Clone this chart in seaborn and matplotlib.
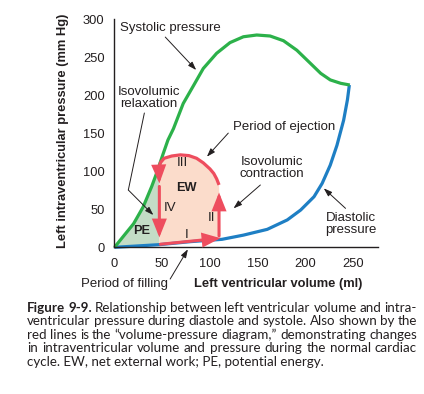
import matplotlib
matplotlib.use("Agg")
import numpy as np
import pandas as pd
import seaborn as sns
import matplotlib.pyplot as plt

# ---------------- data ----------------
systolic_volume = [0, 9, 20, 30, 39, 44, 51, 56, 61.8, 72, 83, 93, 107, 121, 135, 149,
                   163, 177, 191, 205, 216, 226, 237, 246.5]
systolic_pressure = [0, 14, 31, 53, 80, 97, 123, 141, 156, 189, 213, 235, 255, 269, 276.7, 279,
                     277.7, 271.5, 259, 242, 228.6, 220, 215.5, 213.3]

diastolic_volume = [0, 47, 80, 112.6, 135, 160, 181, 195, 209, 217.5, 226, 233, 240, 244, 246]
diastolic_pressure = [0, 3.5, 7.5, 10.5, 16, 23.6, 36, 49, 66.5, 84, 108, 134, 167, 194, 213.3]

# volume-pressure loop (phases I-IV)
phase_I_volume = [48, 111]
phase_I_pressure = [4, 12]
phase_II_volume = [109.5, 109.5]
phase_II_pressure = [15, 72]
phase_III_volume = [109.5, 107, 104, 100, 93, 86, 78, 69, 60, 52, 48, 46.5, 46.8, 47]
phase_III_pressure = [82, 90, 97, 103, 111, 117, 120.5, 121.5, 120, 117, 111, 102, 95, 84]
phase_IV_volume = [47, 47]
phase_IV_pressure = [80, 13]

x_ticks = [0, 50, 100, 150, 200, 250]
y_ticks = [0, 50, 100, 150, 200, 250, 300]

x_label = "Left ventricular volume (ml)"
y_label = "Left intraventricular pressure (mm Hg)"

caption_bold = "Figure 9-9."
caption_lines = [
    "Figure 9-9. Relationship between left ventricular volume and intra-",
    "ventricular pressure during diastole and systole. Also shown by the",
    "red lines is the \u201cvolume-pressure diagram,\u201d demonstrating changes",
    "in intraventricular volume and pressure during the normal cardiac",
    "cycle. EW, net external work; PE, potential energy.",
]

# ---------------- style ----------------
sns.set_style("white")
plt.rcParams["font.family"] = ["Liberation Sans", "DejaVu Sans"]
CAP_FONT = ["Lato", "Liberation Sans", "DejaVu Sans"]
INK = "#231f20"
GREEN = "#2cb14a"
BLUE = "#1e7fc4"
RED = "#ee4d5e"
PEACH = "#fbdccb"
PEGREEN = "#c4dcc6"

fig = plt.figure(figsize=(4.24, 3.94), dpi=100)
ax = fig.add_axes([0.2700, 0.3723, 0.6215, 0.5794])

# fills
sys_v = np.array(systolic_volume, float)
sys_p = np.array(systolic_pressure, float)
dia_v = np.array(diastolic_volume, float)
dia_p = np.array(diastolic_pressure, float)
x_edge = phase_IV_volume[0]
mask = sys_v < x_edge
pe_v = list(sys_v[mask]) + [x_edge, x_edge] + [0]
pe_p = list(sys_p[mask]) + [np.interp(x_edge, sys_v, sys_p), np.interp(x_edge, dia_v, dia_p), 0]
ax.fill(pe_v, pe_p, color=PEGREEN, lw=0, zorder=1)

ew_v = [phase_IV_volume[0]] + phase_I_volume + phase_III_volume
ew_p = [phase_I_pressure[0]] + phase_I_pressure + phase_III_pressure
ax.fill(ew_v, ew_p, color=PEACH, lw=0, zorder=1)

# pressure curves
sns.lineplot(x=diastolic_volume, y=diastolic_pressure, sort=False, estimator=None,
             color=BLUE, lw=2.3, ax=ax, zorder=2)
sns.lineplot(x=systolic_volume, y=systolic_pressure, sort=False, estimator=None,
             color=GREEN, lw=2.3, ax=ax, zorder=2)
for ln in ax.lines:
    ln.set_clip_on(False)
    ln.set_solid_capstyle("butt")
    ln.set_solid_joinstyle("round")

# loop
red_arrow = dict(arrowstyle="-|>,head_length=0.95,head_width=0.38", color=RED, lw=2.2,
                 shrinkA=0, shrinkB=0, joinstyle="miter")
ax.annotate("", xy=(phase_I_volume[1], phase_I_pressure[1]),
            xytext=(phase_I_volume[0], phase_I_pressure[0]), arrowprops=red_arrow, zorder=4)
ax.annotate("", xy=(phase_II_volume[1], phase_II_pressure[1]),
            xytext=(phase_II_volume[0], phase_II_pressure[0]), arrowprops=red_arrow, zorder=4)
sns.lineplot(x=phase_III_volume[:-2], y=phase_III_pressure[:-2], sort=False, estimator=None,
             color=RED, lw=2.3, ax=ax, zorder=4)
ax.lines[-1].set_solid_capstyle("butt")
ax.lines[-1].set_solid_joinstyle("round")
ax.annotate("", xy=(phase_III_volume[-1], phase_III_pressure[-1]),
            xytext=(phase_III_volume[-3], phase_III_pressure[-3]), arrowprops=red_arrow, zorder=4)
ax.annotate("", xy=(phase_IV_volume[1], phase_IV_pressure[1]),
            xytext=(phase_IV_volume[0], phase_IV_pressure[0]), arrowprops=red_arrow, zorder=4)

# axes
ax.set_xlim(0, 276)
ax.set_ylim(0, 300)
ax.set_xticks(x_ticks)
ax.set_yticks(y_ticks)
sns.despine(ax=ax)
for s in ("left", "bottom"):
    ax.spines[s].set_color(INK)
    ax.spines[s].set_linewidth(1.0)
ax.tick_params(axis="both", direction="out", length=4.3, width=1.0, color=INK,
               labelsize=9.3, labelcolor=INK)
ax.tick_params(axis="y", pad=2.8)
ax.tick_params(axis="x", pad=3.6)
ax.set_xlabel(x_label, fontsize=9.3, fontweight="bold", color=INK)
ax.set_ylabel(y_label, fontsize=9.3, fontweight="bold", color=INK)
ax.xaxis.set_label_coords(0.6205, -0.1607)
ax.xaxis.label.set_va("center")
ax.yaxis.set_label_coords(-0.1954, 0.509)
ax.yaxis.label.set_va("center")

# annotations
fs_ann = 9.5
thin = dict(arrowstyle="-|>,head_length=0.5,head_width=0.17", color=INK, lw=0.7,
            shrinkA=0, shrinkB=0)
ax.text(5.8, 288.2, "Systolic pressure", fontsize=fs_ann, color=INK, ha="left", va="center")
ax.annotate("", xy=(85.6, 233.0), xytext=(53.2, 276.3), arrowprops=thin)

ax.text(36.2, 196.8, "Isovolumic\nrelaxation", fontsize=fs_ann, color=INK, ha="center",
        va="center", linespacing=1.0)
ax.plot([31.3, 14.5], [176.5, 75.3], color=INK, lw=0.7, zorder=5)
ax.annotate("", xy=(40.7, 42.4), xytext=(14.5, 75.3), arrowprops=thin)

ax.text(124.4, 158.5, "Period of ejection", fontsize=fs_ann, color=INK, ha="left", va="center")
ax.annotate("", xy=(96.8, 119.1), xytext=(119.2, 150.1), arrowprops=thin)

ax.text(164.9, 104.6, "Isovolumic\ncontraction", fontsize=fs_ann, color=INK, ha="center",
        va="center", linespacing=1.0)
ax.annotate("", xy=(124.7, 51.2), xytext=(152.8, 81.9), arrowprops=thin)

ax.text(247.8, 30.6, "Diastolic\npressure", fontsize=fs_ann, color=INK, ha="center",
        va="center", linespacing=1.0)
ax.annotate("", xy=(219.2, 77.5), xytext=(242.0, 51.2), arrowprops=thin)

ax.text(10.2, -48.2, "Period of filling", fontsize=fs_ann, color=INK, ha="center",
        va="center", clip_on=False)
ax.annotate("", xy=(76.9, -2.6), xytext=(58.3, -41.7), arrowprops=thin, annotation_clip=False)

ax.text(71.6, 110.4, "III", fontsize=fs_ann, color=INK, ha="center", va="center", zorder=6)
ax.text(75.1, 77.5, "EW", fontsize=9.2, fontweight="bold", color=INK, ha="center", va="center", zorder=6)
ax.text(58.3, 51.2, "IV", fontsize=fs_ann, color=INK, ha="center", va="center", zorder=6)
ax.text(102.0, 38.1, "II", fontsize=fs_ann, color=INK, ha="center", va="center", zorder=6)
ax.text(75.8, 16.2, "I", fontsize=fs_ann, color=INK, ha="center", va="center", zorder=6)
ax.text(28.6, 21.8, "PE", fontsize=9.2, fontweight="bold", color=INK, ha="center", va="center", zorder=6)

# ---------------- justified caption ----------------
W, H = 424.0, 394.0
left_px, right_px = 27.0, 417.0
baselines = [311.7, 325.2, 338.7, 352.2, 365.7]
fig.canvas.draw()
rend = fig.canvas.get_renderer()


def measure(s, size, weight):
    t = fig.text(0, 0, s, fontsize=size, fontweight=weight, color=INK, family=CAP_FONT)
    w = t.get_window_extent(rend).width
    t.remove()
    return w


n_bold = len(caption_bold.split())


def line_words(i, size):
    words = caption_lines[i].split()
    weights = ["bold" if (i == 0 and j < n_bold) else "normal" for j in range(len(words))]
    widths = [measure(wd, size, wt) for wd, wt in zip(words, weights)]
    return words, weights, widths


fs_cap = 9.8
min_gap = 2.8
for _ in range(10):
    worst = 1e9
    for i in range(len(caption_lines) - 1):
        words, weights, widths = line_words(i, fs_cap)
        g = (right_px - left_px - sum(widths)) / (len(words) - 1)
        worst = min(worst, g)
    if worst >= min_gap:
        break
    fs_cap *= 0.985

for i in range(len(caption_lines)):
    y_fig = 1 - baselines[i] / H
    if i == len(caption_lines) - 1:
        # last line: not justified, drawn as one run of text
        fig.text(left_px / W, y_fig, caption_lines[i], fontsize=fs_cap, color=INK,
                 ha="left", va="baseline", family=CAP_FONT)
        continue
    words, weights, widths = line_words(i, fs_cap)
    gap = (right_px - left_px - sum(widths)) / (len(words) - 1)
    x = left_px
    for wd, wt, w in zip(words, weights, widths):
        fig.text(x / W, y_fig, wd, fontsize=fs_cap, fontweight=wt,
                 color=INK, ha="left", va="baseline", family=CAP_FONT)
        x += w + gap

fig.savefig("out.png", dpi=100)
